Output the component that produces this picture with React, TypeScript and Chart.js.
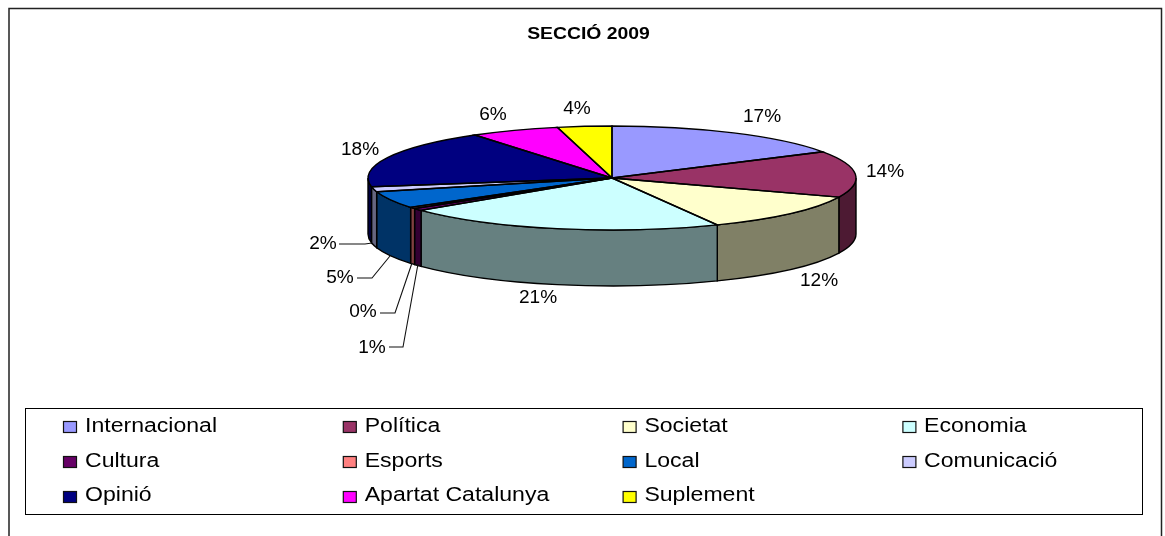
import React, { useEffect, useRef } from "react";
import { Chart, registerables } from "chart.js";

Chart.register(...registerables);

const categories = ["Internacional", "Política", "Societat", "Economia", "Cultura", "Esports", "Local", "Comunicació", "Opinió", "Apartat Catalunya", "Suplement"];
const shares = [16.6, 14.4, 11.9, 21.4, 0.7, 0.45, 5.3, 1.55, 18.2, 5.9, 3.6];
const topColors = ["#9999FF", "#993366", "#FFFFCC", "#CCFFFF", "#660066", "#FF8080", "#0066CC", "#CCCCFF", "#000080", "#FF00FF", "#FFFF00"];
const wallColors = ["#4D4D80", "#4D1A33", "#808066", "#668080", "#330033", "#804040", "#003366", "#666680", "#000040", "#800080", "#808000"];
const chartTitle = "SECCIÓ 2009";

const W = 1165, H = 536;
const CX = 612, CY = 178, RY = 52, DEPTH = 56;
const FONT = '"Liberation Sans", Arial, sans-serif';
const INK = "#000000";

// label anchor [centre x, baseline y] and optional leader polyline
const labelPlaces: { x: number; y: number; leader?: number[][] }[] = [
  { x: 762, y: 122 },
  { x: 885, y: 177 },
  { x: 819, y: 286 },
  { x: 538, y: 303 },
  { x: 372, y: 353, leader: [[389, 347], [403, 347], [418, 264]] },
  { x: 363, y: 317, leader: [[380, 313], [395, 313], [412, 263]] },
  { x: 340, y: 283, leader: [[357, 278], [372, 278], [390, 256]] },
  { x: 323, y: 249, leader: [[339, 244], [365, 244], [372, 243]] },
  { x: 360, y: 155 },
  { x: 493, y: 120 },
  { x: 577, y: 114 },
];

function stretchedText(ctx: CanvasRenderingContext2D, text: string, x: number, y: number, font: string, sx: number, align: "left" | "center") {
  ctx.save();
  ctx.font = font;
  ctx.fillStyle = INK;
  ctx.textBaseline = "alphabetic";
  ctx.textAlign = align;
  ctx.translate(x, y);
  ctx.scale(sx, 1);
  ctx.fillText(text, 0, 0);
  ctx.restore();
}

const pie3d = {
  id: "pie3d",
  beforeDraw(chart: any) {
    const { ctx } = chart;
    ctx.save();
    ctx.fillStyle = "#fff";
    ctx.fillRect(0, 0, W, H);
    ctx.strokeStyle = "#222";
    ctx.lineWidth = 1.5;
    ctx.strokeRect(9, 8.5, 1152.5, H + 20);
    ctx.restore();
    stretchedText(ctx, chartTitle, 588.5, 39, `bold 16px ${FONT}`, 1.21, "center");
  },
  beforeDatasetsDraw(chart: any) {
    const { ctx } = chart;
    const arcs = chart.getDatasetMeta(0).data;
    // outer wall of every slice, under the flattened top face
    arcs.forEach((arc: any, i: number) => {
      const { startAngle, endAngle, outerRadius, x } = arc.getProps(["startAngle", "endAngle", "outerRadius", "x"]);
      const ranges = [[startAngle, endAngle], [startAngle - 2 * Math.PI, endAngle - 2 * Math.PI], [startAngle + 2 * Math.PI, endAngle + 2 * Math.PI]];
      ranges.forEach(([a0, a1]) => {
        const s = Math.max(a0, 0), e = Math.min(a1, Math.PI);
        if (e <= s) return;
        ctx.beginPath();
        ctx.ellipse(x, CY, outerRadius, RY, 0, s, e);
        ctx.ellipse(x, CY + DEPTH, outerRadius, RY, 0, e, s, true);
        ctx.closePath();
        ctx.fillStyle = wallColors[i];
        ctx.fill();
        ctx.strokeStyle = INK;
        ctx.lineWidth = 1.4;
        ctx.stroke();
      });
    });
    ctx.save();
    const a = arcs[0];
    ctx.translate(a.x, CY);
    ctx.scale(1, RY / a.outerRadius);
    ctx.translate(-a.x, -a.y);
  },
  afterDatasetsDraw(chart: any) {
    const { ctx } = chart;
    ctx.restore();
    const arcs = chart.getDatasetMeta(0).data;
    // slice outlines are stroked in screen space so they keep an even width
    arcs.forEach((arc: any) => {
      const { startAngle, endAngle, outerRadius, x } = arc.getProps(["startAngle", "endAngle", "outerRadius", "x"]);
      ctx.beginPath();
      ctx.moveTo(x, CY);
      ctx.ellipse(x, CY, outerRadius, RY, 0, startAngle, endAngle);
      ctx.closePath();
      ctx.strokeStyle = INK;
      ctx.lineWidth = 1.4;
      ctx.stroke();
    });
    // percentage labels + leaders
    const values: number[] = chart.data.datasets[0].data;
    const total = values.reduce((p, c) => p + c, 0);
    values.forEach((v, i) => {
      const place = labelPlaces[i];
      if (place.leader) {
        ctx.beginPath();
        place.leader.forEach(([px, py], k) => (k ? ctx.lineTo(px, py) : ctx.moveTo(px, py)));
        ctx.strokeStyle = "#111";
        ctx.lineWidth = 1.1;
        ctx.stroke();
      }
      stretchedText(ctx, `${Math.round((v / total) * 100)}%`, place.x, place.y, `17.5px ${FONT}`, 1.09, "center");
    });
    // legend
    ctx.save();
    ctx.strokeStyle = INK;
    ctx.lineWidth = 1;
    ctx.strokeRect(25.5, 408.5, 1117, 106);
    ctx.restore();
    (chart.data.labels as string[]).forEach((name, i) => {
      const col = i % 4, row = Math.floor(i / 4);
      const bx = 63.5 + col * 279.8, by = 421.5 + row * 35;
      ctx.fillStyle = topColors[i];
      ctx.fillRect(bx, by, 13, 11);
      ctx.strokeStyle = "#111";
      ctx.lineWidth = 1.2;
      ctx.strokeRect(bx, by, 13, 11);
      stretchedText(ctx, name, 85 + col * 279.7, 432.3 + row * 34.5, `20px ${FONT}`, 1.153, "left");
    });
  },
};

export default function App() {
  const ref = useRef<HTMLCanvasElement>(null);
  useEffect(() => {
    document.body.style.margin = "0";
    const chart = new Chart(ref.current!, {
      type: "pie",
      data: {
        labels: categories,
        datasets: [{ data: shares, backgroundColor: topColors, borderWidth: 0 }],
      },
      options: {
        responsive: false,
        animation: false,
        layout: { padding: { left: CX - 244, right: W - CX - 244, top: 24, bottom: 24 } },
        plugins: { legend: { display: false }, title: { display: false }, tooltip: { enabled: false } },
      },
      plugins: [pie3d],
    });
    return () => chart.destroy();
  }, []);
  return <canvas ref={ref} width={W} height={H} style={{ display: "block" }} />;
}
